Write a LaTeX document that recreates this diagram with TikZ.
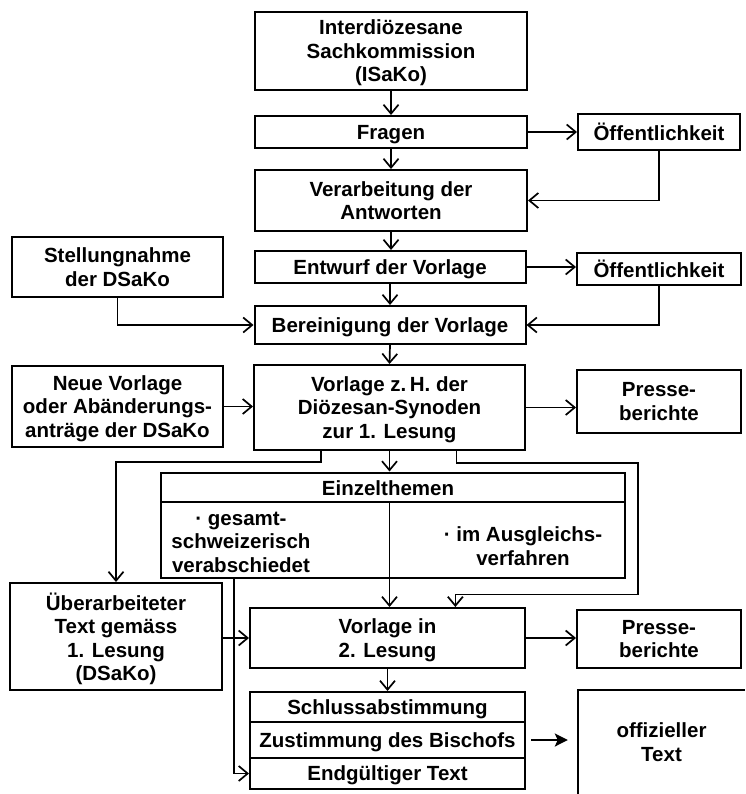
\documentclass[tikz,border=0pt]{standalone}
\usepackage{fontspec}
\setmainfont{Liberation Sans}
\usetikzlibrary{arrows.meta,calc}
\begin{document}
\begin{tikzpicture}[x=1pt,y=-1pt,
  lbl/.style={font=\bfseries\fontsize{20.5}{23.5}\selectfont, text depth=0pt},
  box/.style={lbl, draw, line width=2pt, align=center, inner sep=0pt},
  txt/.style={lbl, align=center, inner sep=0pt},
  conn/.style={line width=1.7pt},
  arr/.style={conn, -{Straight Barb[length=9pt,width=15pt]}},
  bigarr/.style={line width=2.8pt, -{Stealth[length=13pt,width=13pt,inset=3pt]}}
]
\path[use as bounding box] (0,0) rectangle (745,794);

\node[box, minimum width=272pt, minimum height=78pt] (isako) at (391,51) {Interdiözesane\\Sachkommission\\(ISaKo)};
\node[box, minimum width=272pt, minimum height=32pt] (fragen) at (391,132) {Fragen};
\node[box, minimum width=162pt, minimum height=36pt] (oeff1) at (659,132) {Öffentlichkeit};
\node[box, minimum width=272pt, minimum height=61pt] (verarb) at (391,200.5) {Verarbeitung der\\Antworten};
\node[box, minimum width=271pt, minimum height=32pt] (entwurf) at (390,267) {Entwurf der Vorlage};
\node[box, minimum width=164pt, minimum height=32pt] (oeff2) at (659,269) {Öffentlichkeit};
\node[box, minimum width=211pt, minimum height=60pt] (stell) at (117.5,267) {Stellungnahme\\der DSaKo};
\node[box, minimum width=271pt, minimum height=38pt] (berein) at (390,325) {Bereinigung der Vorlage};
\node[box, minimum width=211pt, minimum height=81pt] (neue) at (117.5,406.5) {Neue Vorlage\\oder Abänderungs-\\anträge der DSaKo};
\node[box, minimum width=271pt, minimum height=85pt] (vorl1) at (389.5,407.5) {Vorlage z.\,H. der\\Diözesan-Synoden\\zur 1. Lesung};
\node[box, minimum width=164pt, minimum height=63pt] (presse1) at (659,401.5) {Presse-\\berichte};
\node[box, minimum width=464pt, minimum height=105pt] (einzel) at (393,525) {};
\node[txt] (einzelh) at (388,488) {Einzelthemen};
\node[txt] (gesamt) at (241,542) {· gesamt-\\schweizerisch\\verabschiedet};
\node[txt] (ausgl) at (523,546) {· im Ausgleichs-\\verfahren};
\node[box, minimum width=212pt, minimum height=107pt] (ueber) at (116,636.5) {Überarbeiteter\\Text gemäss\\1. Lesung\\(DSaKo)};
\node[box, minimum width=275pt, minimum height=60pt] (vorl2) at (387.5,638) {Vorlage in\\2. Lesung};
\node[box, minimum width=164pt, minimum height=58pt] (presse2) at (659,639) {Presse-\\berichte};
\node[box, minimum width=275pt, minimum height=30pt] (schluss) at (387.5,707) {Schlussabstimmung};
\node[box, minimum width=275pt, minimum height=36pt] (zust) at (387.5,740) {Zustimmung des Bischofs};
\node[box, minimum width=275pt, minimum height=31pt] (endg) at (387.5,773.5) {Endgültiger Text};
\node[txt, minimum width=167pt, minimum height=104pt] (offiz) at (661.5,742) {offizieller\\Text};

% frame of the official text (open to the page edge)
\draw[line width=2pt] (offiz.south west) -- (offiz.north west) -- (offiz.north east);

% header line of Einzelthemen
\coordinate (hdr) at ([yshift=-30pt]einzel.north);
\draw[line width=2pt] (einzel.west |- hdr) -- (einzel.east |- hdr);

% connectors
\draw[arr] (isako.south) -- (fragen.north);
\draw[arr] (fragen.east) -- (fragen.east -| oeff1.west);
\draw[arr] (oeff1.south) |- (verarb.east);
\draw[arr] (fragen.south) -- (verarb.north);
\draw[arr] (verarb.south) -- (verarb.south |- entwurf.north);
\draw[arr] (entwurf.east) -- (entwurf.east -| oeff2.west);
\draw[arr] (oeff2.south) |- (berein.east);
\draw[arr] (entwurf.south) -- (berein.north);
\draw[arr] (stell.south) |- (berein.west);
\draw[arr] (berein.south) -- (vorl1.north);
\draw[arr] (neue.east) -- (neue.east -| vorl1.west);
\draw[arr] (vorl1.east) -- (vorl1.east -| presse1.west);

% branches below Vorlage 1. Lesung
\coordinate (lb) at ($(vorl1.south west)!0.25!(vorl1.south east)$);
\draw[arr] (lb) -- ++(0,11) -| (ueber.north);
\coordinate (rbs) at ($(vorl1.south west)!0.745!(vorl1.south east)$);
\coordinate (rb) at ([xshift=12pt,yshift=-16pt]einzel.south east);
\coordinate (rbe) at ($(vorl2.north west)!0.745!(vorl2.north east)$);
\draw[arr] (rbs) -- ++(0,12) -| (rb) -| (rbe);
\draw[arr] (vorl1.south) -- (vorl1.south |- einzel.north);
\draw[arr] (vorl1.south |- hdr) -- (vorl1.south |- vorl2.north);

\draw[arr] (ueber.east |- vorl2.west) -- (vorl2.west);
\draw[arr] ([xshift=74pt]einzel.south west) |- (endg.west);
\draw[arr] (vorl2.east) -- (vorl2.east -| presse2.west);
\draw[arr] (vorl2.south) -- (schluss.north);
\draw[bigarr] ([xshift=5pt]zust.east) -- ([xshift=-10pt]zust.east -| offiz.west);
\end{tikzpicture}
\end{document}
